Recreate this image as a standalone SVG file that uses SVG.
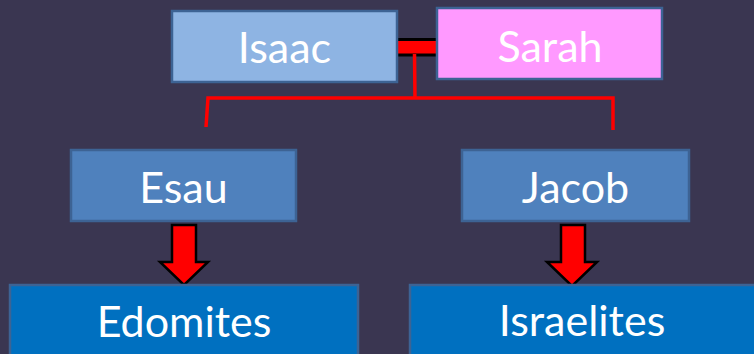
<svg xmlns="http://www.w3.org/2000/svg" width="754" height="354" viewBox="0 0 754 354">
<style>
.box{stroke:#3d6394;stroke-width:2.5}
.t{font-family:Lato,"Open Sans","Liberation Sans",sans-serif;font-size:43px;fill:#ffffff;text-anchor:middle}
.red{stroke:#ff0000;stroke-width:3.5;fill:none}
.arr{fill:#ff0000;stroke:#000000;stroke-width:2.5;stroke-linejoin:miter}
</style>
<rect width="754" height="354" fill="#3a3651"/>
<g id="connectors">
<rect x="397.5" y="38" width="40" height="18.5" fill="#000000"/>
<rect x="397.5" y="41" width="40" height="12.5" fill="#ff0000"/>
<path class="red" d="M414.5 54 L415 98 M206 127 L208 98 L613 98 L613 130"/>
<path class="arr" d="M172 225 L196 225 L196 262 L208 262 L184 285 L160 262 L172 262 Z"/>
<path class="arr" d="M561 225 L585 225 L585 262 L597 262 L572 286 L547 262 L561 262 Z"/>
</g>
<g id="isaac">
<rect class="box" x="172" y="11" width="225" height="71" fill="#8eb4e3"/>
<text class="t" x="284.5" y="63">Isaac</text>
</g>
<g id="sarah">
<rect class="box" x="437" y="8" width="225" height="71" fill="#ff99ff"/>
<text class="t" x="550" y="62">Sarah</text>
</g>
<g id="esau">
<rect class="box" x="71" y="150" width="225" height="71" fill="#4f81bd"/>
<text class="t" x="183.5" y="203">Esau</text>
</g>
<g id="jacob">
<rect class="box" x="462" y="150" width="227" height="71" fill="#4f81bd"/>
<text class="t" x="575.5" y="203">Jacob</text>
</g>
<g id="edomites">
<rect class="box" x="10" y="285" width="348" height="75" fill="#0070c0"/>
<text class="t" x="184" y="337">Edomites</text>
</g>
<g id="israelites">
<rect class="box" x="410" y="285" width="350" height="75" fill="#0070c0"/>
<text class="t" x="582" y="336">Israelites</text>
</g>
</svg>
